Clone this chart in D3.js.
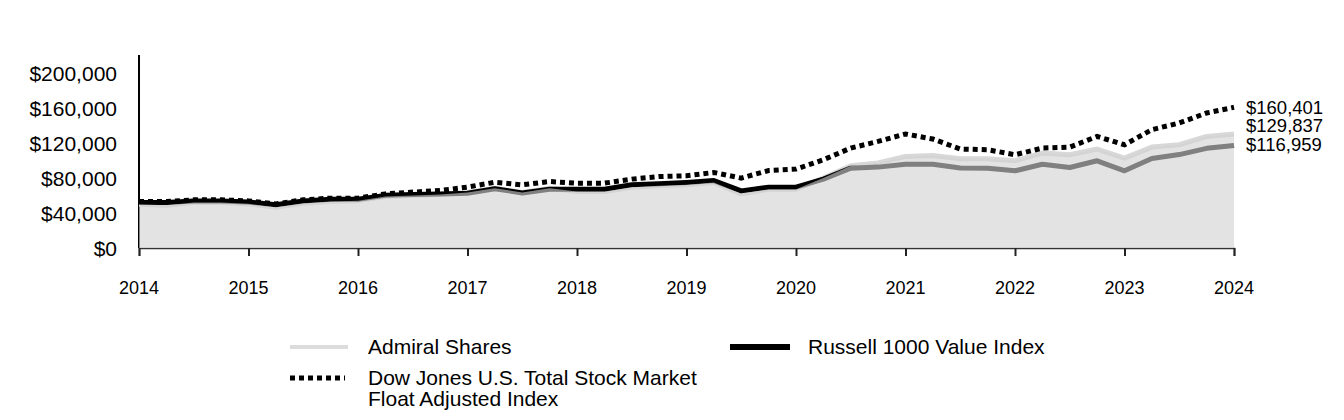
<!DOCTYPE html>
<html>
<head>
<meta charset="utf-8">
<script src="https://cdn.jsdelivr.net/npm/d3@7/dist/d3.min.js"></script>
<style>
  html, body { margin: 0; padding: 0; background: #fff; }
  svg text { font-family: "Liberation Sans", Arial, sans-serif; fill: #000; }
</style>
</head>
<body>
<svg id="chart" width="1344" height="420"></svg>
<script>
// ---- data (quarterly values, 2014 → 2024) ----
const yearLabels = ["2014","2015","2016","2017","2018","2019","2020","2021","2022","2023","2024"];
const yTicks = [0, 40000, 80000, 120000, 160000, 200000];

const admiral = [49900, 48800, 51800, 51800, 50300, 46500, 51000, 53000, 54000, 58700,
  59800, 61000, 63200, 68200, 63200, 68200, 64400, 64400, 69300, 70900,
  72000, 74700, 61700, 67000, 67000, 79700, 93700, 97000, 104400, 105500,
  101700, 101700, 99400, 108200, 106300, 112800, 102500, 115000, 117700, 127200,
  129837];

const russell = [51800, 51800, 53600, 53600, 52500, 49300, 53500, 55500, 55500, 60000,
  61000, 61500, 62500, 67500, 62800, 67000, 67000, 67000, 72000, 73100,
  74700, 76900, 65100, 69300, 69300, 78500, 91000, 92200, 95500, 95500,
  91300, 90900, 88000, 95500, 91800, 99400, 88000, 102000, 106500, 113600,
  116959];

const dowJones = [52900, 52900, 54900, 54900, 53700, 50300, 54900, 56800, 56800, 61700,
  63700, 65500, 69400, 75000, 72000, 75800, 73900, 73900, 78500, 81500,
  82300, 86100, 79700, 88300, 89900, 100600, 113900, 121500, 130000, 124200,
  112800, 112000, 106300, 113900, 115000, 127200, 117700, 134900, 142500, 153900,
  160401];

const seriesNames = ["Admiral Shares", "Russell 1000 Value Index", "Dow Jones U.S. Total Stock Market", "Float Adjusted Index"];

// ---- layout ----
const svg = d3.select("#chart");
const x = d3.scaleLinear().domain([0, admiral.length - 1]).range([139, 1234]);
const y = d3.scaleLinear().domain([0, 220000]).range([248, 55]);
const idx = d3.range(admiral.length);

const fmt = v => "$" + d3.format(",")(v);

// y axis line
svg.append("line").attr("x1", 139).attr("x2", 139).attr("y1", y(220000)).attr("y2", y(0))
  .attr("stroke", "#000").attr("stroke-width", 2);

// y labels
svg.append("g").selectAll("text").data(yTicks).join("text")
  .attr("x", 117).attr("y", d => y(d) + 8)
  .attr("text-anchor", "end").attr("font-size", "21px")
  .text(d => fmt(d));

// x axis
const xAxis = svg.append("g").attr("transform", `translate(0,${y(0)})`)
  .call(d3.axisBottom(x).tickValues(d3.range(0, admiral.length, 4)).tickSize(8).tickFormat(""));
xAxis.select(".domain").attr("stroke", "#333").attr("stroke-width", 1.5);
xAxis.selectAll(".tick line").attr("stroke", "#222").attr("stroke-width", 2);

svg.append("g").selectAll("text").data(yearLabels).join("text")
  .attr("x", (d, i) => x(i * 4)).attr("y", 293.5)
  .attr("text-anchor", "middle").attr("font-size", "18px")
  .text(d => d);

const line = arr => d3.line().x(i => x(i)).y(i => y(arr[i]))(idx);

// admiral line (under the translucent area)
svg.append("path").attr("d", line(admiral)).attr("fill", "none")
  .attr("stroke", "#d8d8d8").attr("stroke-width", 5).attr("stroke-linejoin", "round");

// Dow Jones dotted
svg.append("path").attr("d", line(dowJones)).attr("fill", "none")
  .attr("stroke", "#000").attr("stroke-width", 5).attr("stroke-dasharray", "5,4");

// Russell black
svg.append("path").attr("d", line(russell)).attr("fill", "none")
  .attr("stroke", "#000").attr("stroke-width", 5).attr("stroke-linejoin", "round");

// Admiral translucent area on top
const area = d3.area().x(i => x(i)).y0(y(0)).y1(i => y(admiral[i]));
svg.append("path").attr("d", area(idx)).attr("fill", "#d1d1d1").attr("fill-opacity", 0.61);

// end labels (stacked)
const last = admiral.length - 1;
const endVals = [dowJones[last], admiral[last], russell[last]];
const topY = y(dowJones[last]);
svg.append("g").selectAll("text").data(endVals).join("text")
  .attr("x", 1246).attr("y", (d, i) => topY + i * 18.5 + 6.5)
  .attr("font-size", "18.5px")
  .text(d => fmt(d));

// legend
const lg = svg.append("g");
lg.append("line").attr("x1", 290).attr("x2", 348).attr("y1", 347).attr("y2", 347)
  .attr("stroke", "#dcdcdc").attr("stroke-width", 4);
lg.append("text").attr("x", 368).attr("y", 354).attr("font-size", "21px").text(seriesNames[0]);

lg.append("line").attr("x1", 730).attr("x2", 790).attr("y1", 347).attr("y2", 347)
  .attr("stroke", "#000").attr("stroke-width", 6);
lg.append("text").attr("x", 808).attr("y", 354).attr("font-size", "21px").text(seriesNames[1]);

lg.append("line").attr("x1", 290).attr("x2", 345).attr("y1", 378).attr("y2", 378)
  .attr("stroke", "#000").attr("stroke-width", 5).attr("stroke-dasharray", "5,4");
lg.append("text").attr("x", 368).attr("y", 385).attr("font-size", "21px").text(seriesNames[2]);
lg.append("text").attr("x", 368).attr("y", 406).attr("font-size", "21px").text(seriesNames[3]);
</script>
</body>
</html>
